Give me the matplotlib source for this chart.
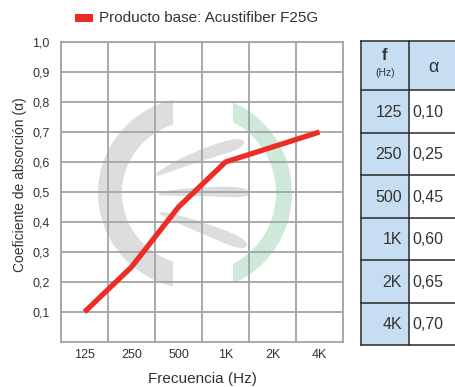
import numpy as np
import matplotlib
matplotlib.use("Agg")
import matplotlib.pyplot as plt
from matplotlib.patches import Polygon, Rectangle
from matplotlib.transforms import Affine2D

plt.rcParams['font.family'] = ['Liberation Sans', 'DejaVu Sans']

# Datos
frecuencias = ['125', '250', '500', '1K', '2K', '4K']
alfa = [0.10, 0.25, 0.45, 0.60, 0.65, 0.70]
alfa_txt = ['0,10', '0,25', '0,45', '0,60', '0,65', '0,70']
y_ticks = [0.1, 0.2, 0.3, 0.4, 0.5, 0.6, 0.7, 0.8, 0.9, 1.0]
y_labels = ['0,1', '0,2', '0,3', '0,4', '0,5', '0,6', '0,7', '0,8', '0,9', '1,0']
serie = 'Producto base: Acustifiber F25G'

W, H = 456, 387
fig = plt.figure(figsize=(W / 100, H / 100), dpi=100)
# coordenadas en pixeles (origen arriba a la izquierda)
px = Affine2D().scale(1 / W, -1 / H).translate(0, 1) + fig.transFigure

gris = '#a3a4a8'
texto = '#333333'
rojo = '#ec2d26'

ax = fig.add_axes([61 / W, 1 - 342 / H, 282 / W, 300 / H])
x = np.arange(len(frecuencias)) + 0.5
ax.plot(x, alfa, color=rojo, lw=3.8, solid_capstyle='butt', zorder=3)
ax.set_xlim(0, len(frecuencias))
ax.set_ylim(0, 1.0)
ax.set_xticks(x)
ax.set_xticklabels(frecuencias)
ax.set_xticks(np.arange(0, len(frecuencias) + 1), minor=True)
ax.set_yticks(y_ticks)
ax.set_yticklabels(y_labels)
ax.tick_params(which='both', length=0, colors=texto, labelsize=9)
ax.tick_params(axis='y', pad=8)
ax.tick_params(axis='x', pad=5)
ax.grid(False)
ax.grid(True, which='minor', axis='x', color=gris, lw=1.3)
ax.grid(True, which='major', axis='y', color=gris, lw=1.3)
ax.set_axisbelow(True)
for s in ax.spines.values():
    s.set_color(gris)
    s.set_linewidth(1.3)
ax.set_xlabel('Frecuencia (Hz)', fontsize=11, color=texto, labelpad=8)
ax.set_ylabel('Coeficiente de absorción (α)', fontsize=10, color=texto)
ax.yaxis.set_label_coords((27 - 61) / 282, (342 - 185) / 300)


# Marca de agua (logo)
def arco(cx, cy, rx_o, ry_o, rx_i, ry_i, xcut, izquierda):
    def ang(rx):
        return np.degrees(np.arccos(np.clip((xcut - cx) / rx, -1, 1)))
    a_o, a_i = ang(rx_o), ang(rx_i)
    if izquierda:
        to = np.radians(np.linspace(a_o, 360 - a_o, 120))
        ti = np.radians(np.linspace(360 - a_i, a_i, 120))
    else:
        to = np.radians(np.linspace(-a_o, a_o, 120))
        ti = np.radians(np.linspace(a_i, -a_i, 120))
    xs = np.concatenate([cx + rx_o * np.cos(to), cx + rx_i * np.cos(ti)])
    ys = np.concatenate([cy - ry_o * np.sin(to), cy - ry_i * np.sin(ti)])
    return np.column_stack([xs, ys])


def hoja(p0, pc, p1, ancho):
    t = np.linspace(0, 1, 80)
    p0, pc, p1 = map(np.array, (p0, pc, p1))
    c = ((1 - t) ** 2)[:, None] * p0 + (2 * t * (1 - t))[:, None] * pc + (t ** 2)[:, None] * p1
    d = np.gradient(c, axis=0)
    n = np.column_stack([-d[:, 1], d[:, 0]])
    n /= np.linalg.norm(n, axis=1)[:, None]
    w = ancho / 2 * t ** 0.4 * np.sqrt(np.clip(1 - t ** 10, 0, 1))
    return np.vstack([c + n * w[:, None], (c - n * w[:, None])[::-1]])


logo_gris = '#dcdddf'
logo_verde = '#cfe9d8'
ax.add_patch(Polygon(arco(196, 193, 98, 96, 74, 72, 173, True), closed=True,
                     fc=logo_gris, ec='none', transform=px, zorder=0.2))
ax.add_patch(Polygon(arco(196, 193, 96, 98, 80, 80, 233, False), closed=True,
                     fc=logo_verde, ec='none', transform=px, zorder=0.2))
for p0, pc, p1, a in [((156, 175), (195, 155), (244, 142), 14),
                      ((158, 194), (205, 190), (250, 193), 12),
                      ((160, 213), (200, 226), (247, 246), 14)]:
    ax.add_patch(Polygon(hoja(p0, pc, p1, a), closed=True, fc=logo_gris,
                         ec='none', transform=px, zorder=0.2))

# Leyenda
fig.patches.append(Rectangle((75, 14), 18, 8, fc=rojo, ec='none', transform=px))
fig.text(99, 18, serie, transform=px, fontsize=11, color=texto, va='center', ha='left')

# Tabla
azul = '#c7ddf1'
borde = '#2a2a2a'
x0, x1, x2 = 361, 409, 460
y_top, y_head = 41, 90
fila = (345 - y_head) / len(frecuencias)
fig.patches.append(Rectangle((x0, y_top), x1 - x0, 345 - y_top, fc=azul, ec='none', transform=px))
fig.patches.append(Rectangle((x1, y_top), x2 - x1, y_head - y_top, fc=azul, ec='none', transform=px))
fig.patches.append(Rectangle((x1, y_head), x2 - x1, 345 - y_head, fc='white', ec='none', transform=px))
for yy in [y_top, y_head] + [y_head + fila * (i + 1) for i in range(len(frecuencias))]:
    fig.lines.append(plt.Line2D([x0, x2], [yy, yy], color=borde, lw=1.1, transform=px))
for xx in [x0, x1]:
    fig.lines.append(plt.Line2D([xx, xx], [y_top, 345], color=borde, lw=1.1, transform=px))

fig.text(385, 55, 'f', transform=px, fontsize=12, fontweight='bold', color=texto, ha='center', va='center')
fig.text(385, 73, '(Hz)', transform=px, fontsize=7.5, color=texto, ha='center', va='center')
fig.text(433, 68, 'α', transform=px, fontsize=13, color=texto, ha='center', va='center')
for i, (f, a) in enumerate(zip(frecuencias, alfa_txt)):
    yc = y_head + fila * (i + 0.5) + 1
    fig.text(402, yc, f, transform=px, fontsize=11.5, color=texto, ha='right', va='center')
    fig.text(412, yc, a, transform=px, fontsize=11.5, color=texto, ha='left', va='center')

fig.savefig('out.png', dpi=100)
